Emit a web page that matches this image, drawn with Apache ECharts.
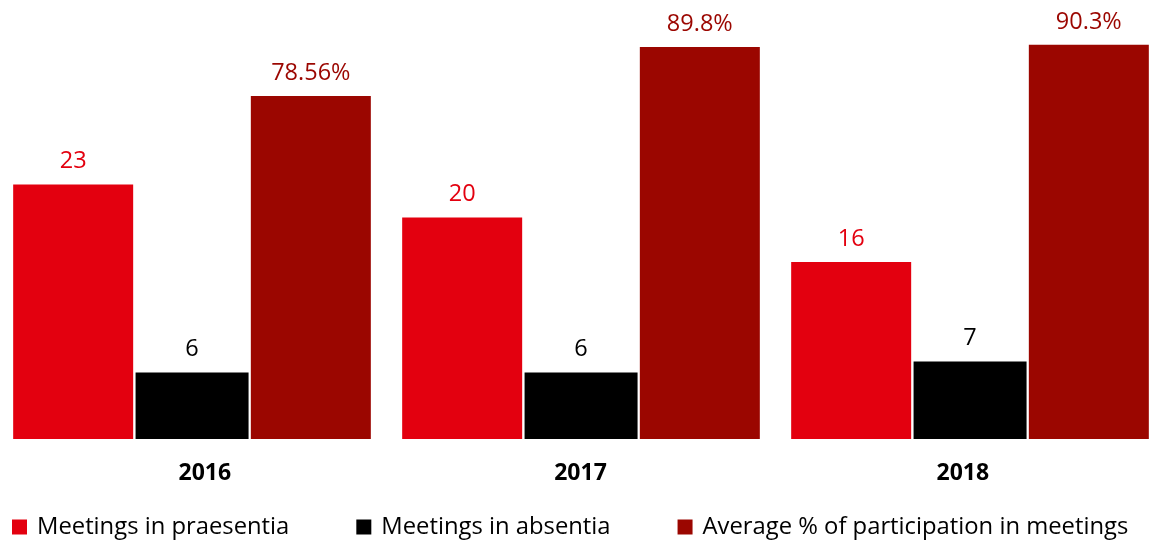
<!DOCTYPE html>
<html>
<head>
<meta charset="utf-8">
<title>Board meetings 2016–2018</title>
<script src="https://cdn.jsdelivr.net/npm/echarts@6/dist/echarts.min.js"></script>
<style>
  html, body { margin: 0; padding: 0; background: #ffffff; }
  #chart { width: 1151px; height: 540px; }
</style>
</head>
<body>
<div id="chart"></div>
<script>
// Years shown on the category axis
const years = ['2016', '2017', '2018'];

// Number of meetings held in person
const meetingsInPraesentia = [23, 20, 16];

// Number of meetings held remotely
const meetingsInAbsentia = [6, 6, 7];

// Average participation rate (%)
const avgParticipation = [78.56, 89.8, 90.3];

// Series names (legend text)
const seriesNames = [
  'Meetings in praesentia',
  'Meetings in absentia',
  'Average % of participation in meetings'
];

const FONT = '"Open Sans", "Noto Sans", sans-serif';
const RED = '#e3000f';
const BLACK = '#000000';
const DARK_RED = '#9b0600';

// Small horizontal nudges for the year labels (px, + = right)
const yearLabelShift = [12.8, -0.5, -7.2];

const chart = echarts.init(document.getElementById('chart'), null, { renderer: 'canvas' });

function valueLabel(color, formatter) {
  return {
    show: true,
    position: 'top',
    distance: 11,
    color: color,
    fontFamily: FONT,
    fontSize: 23.5,
    formatter: formatter
  };
}

const option = {
  backgroundColor: '#ffffff',
  animation: false,
  legend: {
    left: 7,
    top: 510,
    icon: 'rect',
    itemWidth: 15,
    itemHeight: 15,
    itemGap: 67,
    textStyle: {
      fontFamily: FONT,
      fontSize: 23.8,
      color: '#000000',
      padding: [0, 0, 0, 5]
    },
    data: seriesNames
  },
  grid: {
    left: -2.5,
    top: 2.5,
    width: 1167,
    height: 436.5,
    containLabel: false,
    outerBoundsMode: 'none'
  },
  xAxis: {
    type: 'category',
    data: years.map((y, i) => {
      const s = yearLabelShift[i];
      return {
        value: y,
        textStyle: { padding: s >= 0 ? [0, 0, 0, 2 * s] : [0, -2 * s, 0, 0] }
      };
    }),
    axisLine: { show: false },
    axisTick: { show: false },
    axisLabel: {
      margin: 23,
      fontFamily: FONT,
      fontSize: 23,
      fontWeight: 'bold',
      color: '#000000'
    }
  },
  yAxis: [
    { type: 'value', min: 0, max: 39.43, show: false, splitLine: { show: false } },
    { type: 'value', min: 0, max: 100, show: false, splitLine: { show: false } }
  ],
  series: [
    {
      name: seriesNames[0],
      type: 'bar',
      yAxisIndex: 0,
      barWidth: 120,
      barGap: '2%',
      itemStyle: { color: RED },
      label: valueLabel(RED, '{c}'),
      data: meetingsInPraesentia
    },
    {
      name: seriesNames[1],
      type: 'bar',
      yAxisIndex: 0,
      barWidth: 113,
      barGap: '2%',
      itemStyle: { color: BLACK },
      label: valueLabel(BLACK, '{c}'),
      data: meetingsInAbsentia
    },
    {
      name: seriesNames[2],
      type: 'bar',
      yAxisIndex: 1,
      barWidth: 120,
      barGap: '2%',
      itemStyle: { color: DARK_RED },
      label: valueLabel(DARK_RED, '{c}%'),
      data: avgParticipation
    }
  ]
};

chart.setOption(option);
</script>
</body>
</html>
